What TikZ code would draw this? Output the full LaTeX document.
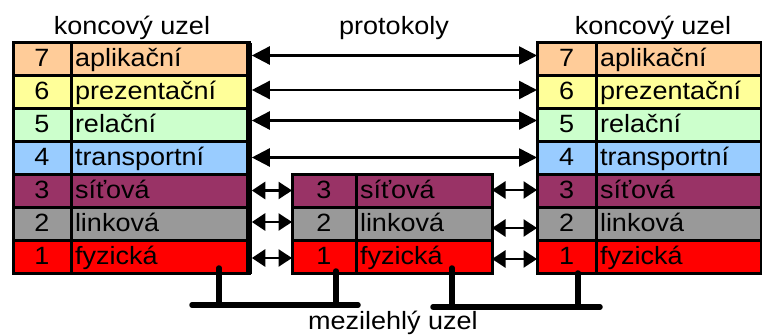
\documentclass[tikz,border=0pt]{standalone}
\usepackage{fontspec}
\setmainfont{Liberation Sans}[FakeStretch=1.08]
\usetikzlibrary{arrows.meta}

% layer colours
\definecolor{lay7}{HTML}{FFCC99}
\definecolor{lay6}{HTML}{FFFF99}
\definecolor{lay5}{HTML}{CCFFCC}
\definecolor{lay4}{HTML}{99CCFF}
\definecolor{lay3}{HTML}{993366}
\definecolor{lay2}{HTML}{999999}
\definecolor{lay1}{HTML}{FF0000}

\begin{document}
\begin{tikzpicture}[x=1pt,y=-1pt,
  txt/.style={font=\fontsize{25}{29}\selectfont},
  cell/.style={txt, draw=black, line width=3pt, inner ysep=0pt, outer sep=0pt,
    minimum height=33pt, text height=18pt, text depth=4pt, anchor=north west},
  numcell/.style={cell, inner xsep=0pt, align=center},
  namecell/.style={cell, inner xsep=4pt, align=left},
  longarrow/.style={line width=2.5pt, {Triangle[length=18pt,width=18pt]}-{Triangle[length=18pt,width=18pt]}},
  shortarrow/.style={line width=2.7pt, {Triangle[length=13.5pt,width=17pt]}-{Triangle[length=13.5pt,width=17pt]}},
  bus/.style={line width=5.5pt, line cap=round},
  caption/.style={txt, anchor=base, inner sep=0pt}
]
\useasboundingbox (0,0) rectangle (762,336);

% end node stacks (left and right)
\foreach \n/\t/\c in {7/aplikační/lay7,6/prezentační/lay6,5/relační/lay5,
                      4/transportní/lay4,3/síťová/lay3,2/linková/lay2,1/fyzická/lay1}{
  \node[numcell, fill=\c, minimum width=58pt] (L\n n) at (13,{43+33*(7-\n)}) {\n};
  \node[namecell, fill=\c, minimum width=178pt, text width=170pt] (L\n t) at (71,{43+33*(7-\n)}) {\t};
  \node[numcell, fill=\c, minimum width=59pt] (R\n n) at (537,{43+33*(7-\n)}) {\n};
  \node[namecell, fill=\c, minimum width=165pt, text width=157pt] (R\n t) at (596,{43+33*(7-\n)}) {\t};
}

% intermediate node stack
\foreach \n/\t/\c in {3/síťová/lay3,2/linková/lay2,1/fyzická/lay1}{
  \node[numcell, fill=\c, minimum width=64pt] (M\n n) at (292,{43+33*(7-\n)}) {\n};
  \node[namecell, fill=\c, minimum width=136pt, text width=128pt] (M\n t) at (356,{43+33*(7-\n)}) {\t};
}

% heavy right edge of the left stack
\draw[line width=5.5pt] (L7t.north east) -- (L1t.south east);

% peer protocols between end nodes
\draw[longarrow] ([xshift=2.8pt,yshift=4pt]L7t.east) -- ([yshift=4pt]R7n.west);
\draw[longarrow] ([xshift=2.8pt,yshift=2.5pt]L6t.east) -- ([yshift=2.5pt]R6n.west);
\draw[longarrow] ([xshift=2.8pt,yshift=5pt]L5t.east) -- ([yshift=5pt]R5n.west);
\draw[longarrow] ([xshift=2.8pt,yshift=1pt]L4t.east) -- ([yshift=1pt]R4n.west);

% protocols to and from the intermediate node
\draw[shortarrow] ([xshift=2.8pt,yshift=1pt]L3t.east) -- ([yshift=1pt]M3n.west);
\draw[shortarrow] ([xshift=2.8pt,yshift=2.5pt]L2t.east) -- ([yshift=2.5pt]M2n.west);
\draw[shortarrow] ([xshift=2.8pt,yshift=-0.5pt]L1t.east) -- ([yshift=-0.5pt]M1n.west);
\draw[shortarrow] ([yshift=1.5pt]M3t.east) -- ([yshift=1.5pt]R3n.west);
\draw[shortarrow] ([yshift=-3.5pt]M2t.east) -- ([yshift=-3.5pt]R2n.west);
\draw[shortarrow] ([yshift=-1.5pt]M1t.east) -- ([yshift=-1.5pt]R1n.west);

% physical links
\coordinate (dropL) at (219,268);
\coordinate (dropM1) at (336,271);
\coordinate (dropM2) at (452,268);
\coordinate (dropR) at (578,273);
\coordinate (busAw) at (192,305);
\coordinate (busAe) at (358,305);
\coordinate (busBw) at (433,307);
\coordinate (busBe) at (600,307);
\draw[bus] (busAw) -- (busAe);
\draw[bus] (dropL) -- (dropL |- busAw);
\draw[bus] (dropM1) -- (dropM1 |- busAw);
\draw[bus] (busBw) -- (busBe);
\draw[bus] (dropM2) -- (dropM2 |- busBw);
\draw[bus] (dropR) -- (dropR |- busBw);

% captions
\node[caption] (capL) at (132,35) {koncový uzel};
\node[caption] (capP) at (394,35) {protokoly};
\node[caption] (capR) at (653,35) {koncový uzel};
\node[caption] (capM) at (393,329) {mezilehlý uzel};
\end{tikzpicture}
\end{document}
